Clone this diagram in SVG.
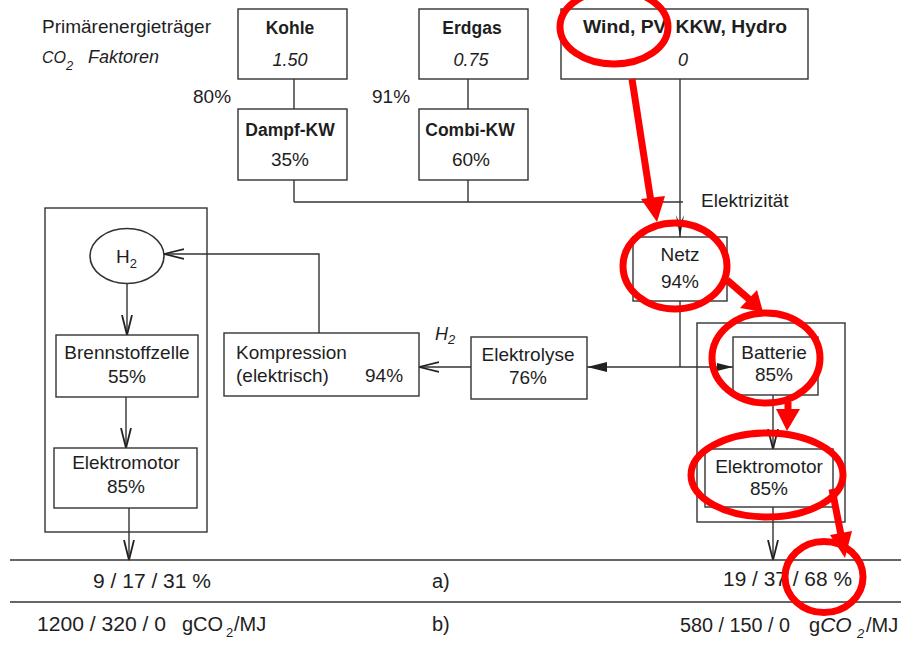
<svg xmlns="http://www.w3.org/2000/svg" width="901" height="645" viewBox="0 0 901 645">
<style>
  text { font-family: "Liberation Sans", Arial, sans-serif; fill: #1e1e1e; font-size: 19px; }
  .b { font-weight: bold; font-size: 17.5px; }
  .i { font-style: italic; font-size: 18px; }
  .c { text-anchor: middle; }
  .sub { font-size: 13px; }
  .r { font-size: 20px; }
  .box { fill: #fff; stroke: #333; stroke-width: 1.4; }
  .ln { fill: none; stroke: #333; stroke-width: 1.4; }
  .red { fill: none; stroke: #ff0000; stroke-width: 7; }
  .redf { fill: #ff0000; stroke: none; }
</style>
<defs>
  <marker id="open" markerUnits="userSpaceOnUse" viewBox="0 0 22 12" markerWidth="22" markerHeight="12" refX="20" refY="6" orient="auto">
    <path d="M0,1 L20,6 L0,11" fill="none" stroke="#222" stroke-width="1.8"/>
  </marker>
  <marker id="fill" markerUnits="userSpaceOnUse" viewBox="0 0 22 12" markerWidth="22" markerHeight="12" refX="20" refY="6" orient="auto">
    <path d="M0,1 L20,6 L0,11 z" fill="#222"/>
  </marker>
  <marker id="fills" markerUnits="userSpaceOnUse" viewBox="0 0 18 10" markerWidth="18" markerHeight="10" refX="16" refY="5" orient="auto">
    <path d="M0,1 L16,5 L0,9 z" fill="#222"/>
  </marker>
  <marker id="notch" markerUnits="userSpaceOnUse" viewBox="0 0 24 10" markerWidth="24" markerHeight="10" refX="22" refY="5" orient="auto">
    <path d="M0,1 L22,5 L0,9 L9,5 z" fill="#222"/>
  </marker>
</defs>
<rect width="901" height="645" fill="#fff"/>

<g id="legend">
  <text x="42" y="33" font-size="17" textLength="169" lengthAdjust="spacingAndGlyphs">Primärenergieträger</text>
  <text x="42" y="63" class="i"><tspan font-size="16">CO</tspan><tspan class="sub" dy="7">2</tspan><tspan x="88" dy="-7">Faktoren</tspan></text>
</g>

<g id="connectors">
  <line class="ln" x1="294" y1="79" x2="294" y2="109"/>
  <line class="ln" x1="468" y1="79" x2="468" y2="109"/>
  <line class="ln" x1="294" y1="180" x2="294" y2="202"/>
  <line class="ln" x1="468" y1="180" x2="468" y2="202"/>
  <line class="ln" x1="294" y1="202" x2="683" y2="202"/>
  <line class="ln" x1="680" y1="79" x2="680" y2="237" marker-end="url(#notch)"/>
  <line class="ln" x1="680" y1="301" x2="680" y2="367"/>
  <line class="ln" x1="680" y1="367" x2="587" y2="367" marker-end="url(#fill)"/>
  <line class="ln" x1="680" y1="367" x2="733" y2="367" marker-end="url(#fills)"/>
  <line class="ln" x1="471" y1="367" x2="419" y2="367" marker-end="url(#open)"/>
  <polyline class="ln" points="319,333 319,254 164,254" marker-end="url(#open)"/>
  <line class="ln" x1="127" y1="283" x2="127" y2="335" marker-end="url(#open)"/>
  <line class="ln" x1="126" y1="397" x2="126" y2="448" marker-end="url(#open)"/>
  <line class="ln" x1="129" y1="508" x2="129" y2="560" marker-end="url(#open)"/>
  <line class="ln" x1="773" y1="395" x2="773" y2="449" marker-end="url(#open)"/>
  <line class="ln" x1="773" y1="507" x2="773" y2="560" marker-end="url(#open)"/>
  <line class="ln" x1="10" y1="560" x2="901" y2="560"/>
  <line class="ln" x1="10" y1="602" x2="901" y2="602"/>
  <text x="701" y="207">Elektrizität</text>
  <text x="435" y="340" class="i" font-size="16">H<tspan class="sub" dy="4">2</tspan></text>
  <text x="193" y="103">80%</text>
  <text x="372" y="103">91%</text>
</g>

<g id="kohle">
  <rect class="box" x="238" y="9" width="109" height="70"/>
  <text x="290" y="34" class="b c">Kohle</text>
  <text x="290" y="66" class="i c">1.50</text>
</g>
<g id="erdgas">
  <rect class="box" x="419" y="9" width="109" height="70"/>
  <text x="472" y="34" class="b c">Erdgas</text>
  <text x="471" y="66" class="i c">0.75</text>
</g>
<g id="wind">
  <rect class="box" x="561" y="9" width="247" height="70"/>
  <text x="685" y="33" class="b c" font-size="18" textLength="204" lengthAdjust="spacingAndGlyphs">Wind, PV, KKW, Hydro</text>
  <text x="683" y="66" class="i c">0</text>
</g>
<g id="dampf">
  <rect class="box" x="238" y="109" width="109" height="71"/>
  <text x="290" y="136" class="b c">Dampf-KW</text>
  <text x="290" y="166" class="c">35%</text>
</g>
<g id="combi">
  <rect class="box" x="419" y="109" width="109" height="71"/>
  <text x="470" y="136" class="b c">Combi-KW</text>
  <text x="471" y="166" class="c">60%</text>
</g>
<g id="fcv">
  <rect x="45" y="208" width="162" height="324" fill="none" stroke="#333" stroke-width="1.4"/>
</g>
<g id="h2">
  <ellipse cx="127" cy="256" rx="37" ry="27.5" fill="#fff" stroke="#333" stroke-width="1.6"/>
  <text x="116" y="263">H<tspan class="sub" dy="5">2</tspan></text>
</g>
<g id="brennstoffzelle">
  <rect class="box" x="56" y="335" width="142" height="62"/>
  <text x="127" y="359" class="c">Brennstoffzelle</text>
  <text x="127" y="383" class="c">55%</text>
</g>
<g id="elektromotor-links">
  <rect class="box" x="54" y="448" width="143" height="60"/>
  <text x="126" y="469" class="c">Elektromotor</text>
  <text x="126" y="493" class="c">85%</text>
</g>
<g id="kompression">
  <rect class="box" x="224" y="333" width="195" height="63"/>
  <text x="236" y="359">Kompression</text>
  <text x="236" y="382">(elektrisch)</text>
  <text x="365" y="382">94%</text>
</g>
<g id="elektrolyse">
  <rect class="box" x="471" y="337" width="116" height="62"/>
  <text x="528" y="361" class="c">Elektrolyse</text>
  <text x="528" y="384" class="c">76%</text>
</g>
<g id="netz">
  <rect class="box" x="633" y="237" width="94" height="64"/>
  <text x="680" y="261" class="c">Netz</text>
  <text x="680" y="288" class="c">94%</text>
</g>
<g id="bev">
  <rect x="697" y="323" width="148" height="199" fill="none" stroke="#333" stroke-width="1.4"/>
</g>
<g id="batterie">
  <rect class="box" x="733" y="337" width="85" height="58"/>
  <text x="774" y="359" class="c">Batterie</text>
  <text x="774" y="381" class="c">85%</text>
</g>
<g id="elektromotor-rechts">
  <rect class="box" x="705" y="449" width="128" height="58"/>
  <text x="769" y="473" class="c">Elektromotor</text>
  <text x="769" y="495" class="c">85%</text>
</g>

<g id="results">
  <text x="93" y="588" class="r" textLength="118" lengthAdjust="spacingAndGlyphs">9 / 17 / 31 %</text>
  <text x="432" y="588" class="r">a)</text>
  <text x="723" y="586" class="r" textLength="129" lengthAdjust="spacingAndGlyphs">19 / 37 / 68 %</text>
  <text x="37" y="631" class="r" textLength="129" lengthAdjust="spacingAndGlyphs">1200 / 320 / 0</text>
  <text x="182" y="631" class="r">gCO<tspan class="sub" x="226" dy="6">2</tspan><tspan x="234" dy="-6">/MJ</tspan></text>
  <text x="432" y="631" class="r">b)</text>
  <text x="680" y="632" class="r" textLength="110" lengthAdjust="spacingAndGlyphs">580 / 150 / 0</text>
  <text x="809" y="632" class="r">g<tspan font-style="italic" font-size="21">CO</tspan><tspan class="sub" font-style="italic" x="857" dy="6">2</tspan><tspan x="866" dy="-6">/MJ</tspan></text>
</g>

<g id="annotations">
  <ellipse class="red" cx="614" cy="27" rx="54" ry="37"/>
  <line class="red" x1="632" y1="79" x2="651" y2="202"/>
  <polygon class="redf" points="641,199 665,196 657,222"/>
  <ellipse class="red" cx="675" cy="266" rx="52" ry="43"/>
  <line class="red" x1="727" y1="280" x2="750" y2="300"/>
  <polygon class="redf" points="740,308 757,290 763,312"/>
  <ellipse class="red" cx="766" cy="358" rx="54" ry="45"/>
  <line class="red" x1="788" y1="402" x2="788" y2="412"/>
  <polygon class="redf" points="776,409 800,409 787,431"/>
  <ellipse class="red" cx="767" cy="475" rx="76" ry="42"/>
  <line class="red" x1="832" y1="489" x2="841" y2="535"/>
  <polygon class="redf" points="830,535 852,531 845,558"/>
  <ellipse class="red" cx="824" cy="577" rx="39" ry="35.5"/>
</g>
</svg>
